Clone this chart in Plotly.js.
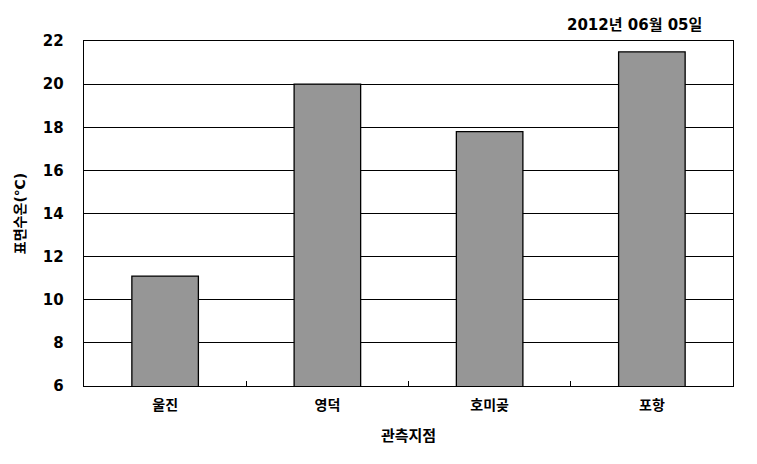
<!DOCTYPE html>
<html>
<head>
<meta charset="utf-8">
<script src="https://cdn.plot.ly/plotly-3.0.1.min.js"></script>
<style>html,body{margin:0;padding:0;background:#fff;}</style>
</head>
<body>
<div id="chart" style="width:757px;height:464px;"></div>
<script>
const categories = ["울진", "영덕", "호미곶", "포항"];
const temperatures = [11.1, 20.0, 17.8, 21.5];
const yTicks = [6, 8, 10, 12, 14, 16, 18, 20, 22];
const dateLabel = "2012년 06월 05일";
const xTitle = "관측지점";
const yTitle = "표면수온(℃)";

const font = "'DejaVu Sans', 'Noto Sans CJK KR', sans-serif";

Plotly.newPlot("chart", [{
  type: "bar",
  x: categories,
  y: temperatures,
  marker: {color: "#969696", line: {color: "#000", width: 1.3}},
  hoverinfo: "skip"
}], {
  width: 757, height: 464,
  margin: {l: 84, r: 24, t: 41, b: 78},
  paper_bgcolor: "#fff", plot_bgcolor: "#fff",
  bargap: 0.59,
  showlegend: false,
  font: {family: font, color: "#000"},
  xaxis: {
    type: "category",
    showline: true, linecolor: "#000", linewidth: 1.3, mirror: true,
    ticks: "inside", tickson: "boundaries", ticklen: 5, tickcolor: "#000", tickwidth: 1,
    showgrid: false,
    ticklabelstandoff: 6,
    tickfont: {family: font, size: 14, color: "#000", weight: "bold"},
    title: {text: xTitle, font: {family: font, size: 15, color: "#000", weight: "bold"}, standoff: 18}
  },
  yaxis: {
    range: [6, 22],
    tickvals: yTicks,
    ticktext: yTicks.map(String),
    showline: true, linecolor: "#000", linewidth: 1.3, mirror: true,
    ticks: "", showgrid: true, gridcolor: "#000", gridwidth: 1,
    zeroline: false,
    ticklabelstandoff: 16,
    tickfont: {family: font, size: 15, color: "#000", weight: "bold"},
    title: {text: yTitle, font: {family: font, size: 14, color: "#000", weight: "bold"}, standoff: 14}
  },
  annotations: [{
    text: dateLabel, xref: "paper", yref: "paper",
    x: 0.955, y: 1.0, xanchor: "right", yanchor: "bottom", yshift: 5,
    showarrow: false,
    font: {family: font, size: 15, color: "#000", weight: "bold"}
  }]
}, {displayModeBar: false, staticPlot: true});
</script>
</body>
</html>
